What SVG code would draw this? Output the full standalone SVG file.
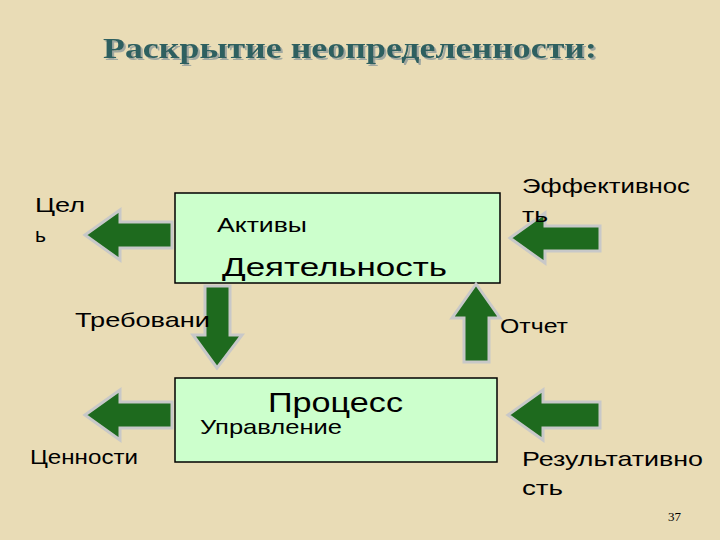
<svg xmlns="http://www.w3.org/2000/svg" width="720" height="540" viewBox="0 0 720 540">
<style>
.t{font-family:"Liberation Sans",Arial,sans-serif;fill:#000}
.box{fill:#ccffcc;stroke:#000;stroke-width:1.5}
.ar{fill:#1e6a1e;stroke:#c8c8c8;stroke-width:3}
</style>
<defs><filter id="sh" x="-5%" y="-20%" width="110%" height="150%"><feDropShadow dx="2" dy="2" stdDeviation="0.5" flood-color="#a0a8a0"/></filter></defs>
<rect width="720" height="540" fill="#e9dcb6"/>
<g id="title">
<text x="103" y="58" textLength="494" lengthAdjust="spacingAndGlyphs" font-family="Liberation Serif,serif" font-weight="bold" font-size="30" fill="#2e6060" filter="url(#sh)">Раскрытие неопределенности:</text>
</g>
<g id="activity"><rect class="box" x="175" y="193" width="325" height="90"/>
<text class="t" x="217" y="232" font-size="21" textLength="90" lengthAdjust="spacingAndGlyphs">Активы</text>
<text class="t" x="222" y="276" font-size="26" textLength="225" lengthAdjust="spacingAndGlyphs">Деятельность</text></g>
<g id="process"><rect class="box" x="175" y="378" width="322" height="84"/>
<text class="t" x="268" y="412" font-size="27" textLength="135" lengthAdjust="spacingAndGlyphs">Процесс</text>
<text class="t" x="200" y="434" font-size="21" textLength="142" lengthAdjust="spacingAndGlyphs">Управление</text></g>
<g id="connectors">
<polygon class="ar" points="85,235 120,210 120,222 172,222 172,248 120,248 120,260"/>
<polygon class="ar" points="510,238 545,213 545,226 600,226 600,251 545,251 545,263"/>
<polygon class="ar" points="85,415 120,390 120,402 172,402 172,428 120,428 120,440"/>
<polygon class="ar" points="508,415 543,390 543,402 600,402 600,428 543,428 543,440"/>
<polygon class="ar" points="217,368 193,335 205,335 205,286 230,286 230,335 242,335"/>
<polygon class="ar" points="476,284 452,318 464,318 464,362 489,362 489,318 500,318"/>
</g>
<g id="labels">
<text class="t" x="35" y="212" font-size="21" textLength="50" lengthAdjust="spacingAndGlyphs">Цел</text>
<text class="t" x="35" y="242" font-size="21">ь</text>
<text class="t" x="522" y="193" font-size="21" textLength="168" lengthAdjust="spacingAndGlyphs">Эффективнос</text>
<text class="t" x="522" y="222" font-size="21" textLength="26" lengthAdjust="spacingAndGlyphs">ть</text>
<text class="t" x="75" y="327" font-size="21" textLength="135" lengthAdjust="spacingAndGlyphs">Требовани</text>
<text class="t" x="500" y="333" font-size="21" textLength="68" lengthAdjust="spacingAndGlyphs">Отчет</text>
<text class="t" x="30" y="464" font-size="21" textLength="108" lengthAdjust="spacingAndGlyphs">Ценности</text>
<text class="t" x="522" y="466" font-size="21" textLength="181" lengthAdjust="spacingAndGlyphs">Результативно</text>
<text class="t" x="522" y="495" font-size="21" textLength="41" lengthAdjust="spacingAndGlyphs">сть</text>
<text x="668" y="521" font-family="Liberation Serif,serif" font-size="13">37</text>
</g>
</svg>
